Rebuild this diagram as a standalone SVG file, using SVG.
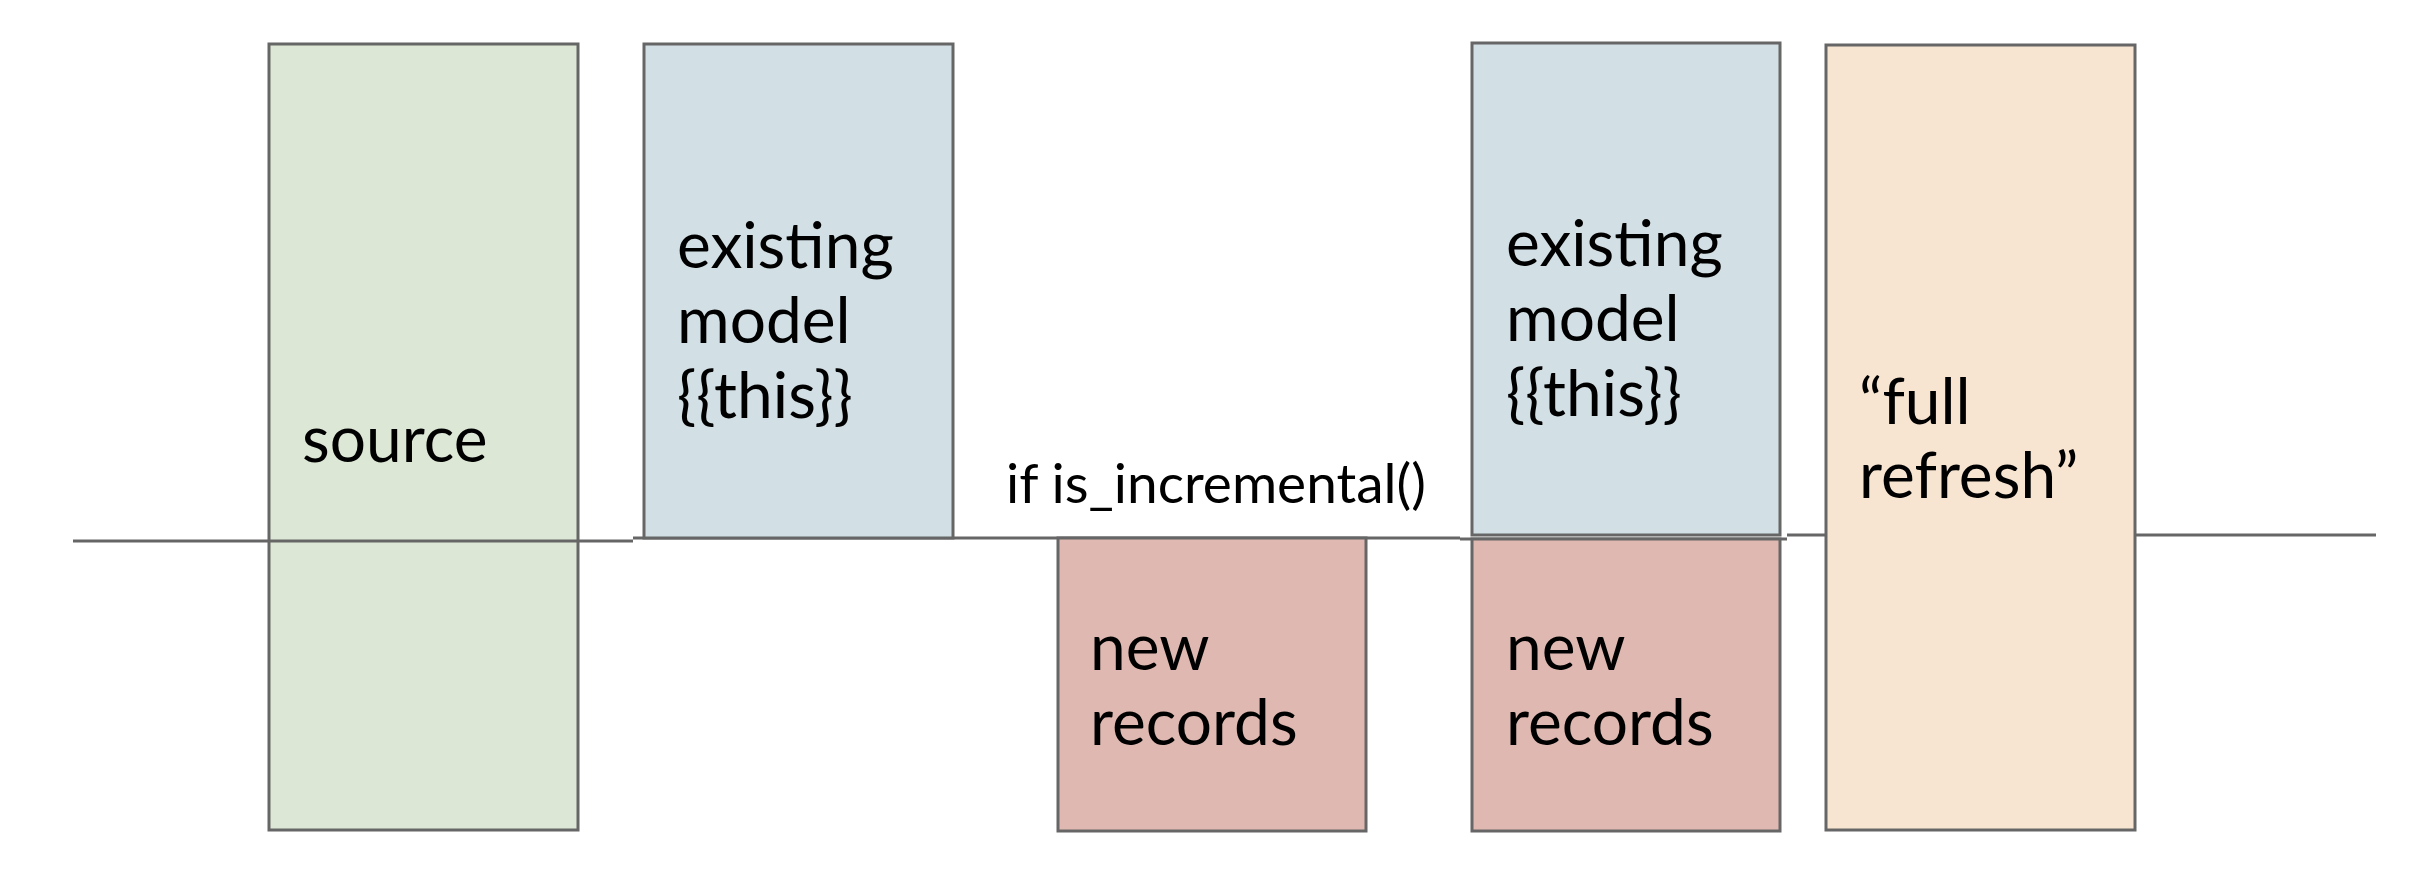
<svg xmlns="http://www.w3.org/2000/svg" width="2432" height="886" viewBox="0 0 2432 886">
<style>
.box{stroke:#666666;stroke-width:3}
.src{fill:#dce8d5}
.ext{fill:#d2dfe4}
.new{fill:#dfb9b1}
.full{fill:#f7e5d2}
.big{font-family:Lato,"Liberation Sans",sans-serif;font-size:64px;fill:#000}
.lbl{font-family:Lato,"Liberation Sans",sans-serif;font-size:55px;fill:#000}
.ln{stroke:#666666;stroke-width:3;fill:none}
</style>
<rect width="2432" height="886" fill="#ffffff"/>
<g id="source">
<rect class="box src" x="269" y="44" width="309" height="786"/>
<text class="big" x="302" y="462">source</text>
</g>
<g id="connectors">
<line class="ln" x1="73" y1="541" x2="633" y2="541"/>
<line class="ln" x1="633" y1="538" x2="1460" y2="538"/>
<line class="ln" x1="1460" y1="539" x2="1787" y2="539"/>
<line class="ln" x1="1787" y1="535" x2="1826" y2="535"/>
<line class="ln" x1="2135" y1="535" x2="2376" y2="535"/>
</g>
<g id="existing-model-1">
<rect class="box ext" x="644" y="44" width="309" height="494"/>
<text class="big"><tspan x="677" y="268">existing</tspan><tspan x="677" y="343">model</tspan><tspan x="677" y="418">{{this}}</tspan></text>
</g>
<g id="label-is-incremental">
<text class="lbl" x="1006" y="503">if is_incremental()</text>
</g>
<g id="new-records-1">
<rect class="box new" x="1058" y="538" width="308" height="293"/>
<text class="big"><tspan x="1090" y="670">new</tspan><tspan x="1090" y="745">records</tspan></text>
</g>
<g id="existing-model-2">
<rect class="box ext" x="1472" y="43" width="308" height="492"/>
<text class="big"><tspan x="1506" y="266">existing</tspan><tspan x="1506" y="341">model</tspan><tspan x="1506" y="416">{{this}}</tspan></text>
</g>
<g id="new-records-2">
<rect class="box new" x="1472" y="539" width="308" height="292"/>
<text class="big"><tspan x="1506" y="670">new</tspan><tspan x="1506" y="745">records</tspan></text>
</g>
<g id="full-refresh">
<rect class="box full" x="1826" y="45" width="309" height="785"/>
<text class="big"><tspan x="1859" y="424">“full</tspan><tspan x="1859" y="498">refresh”</tspan></text>
</g>
</svg>
